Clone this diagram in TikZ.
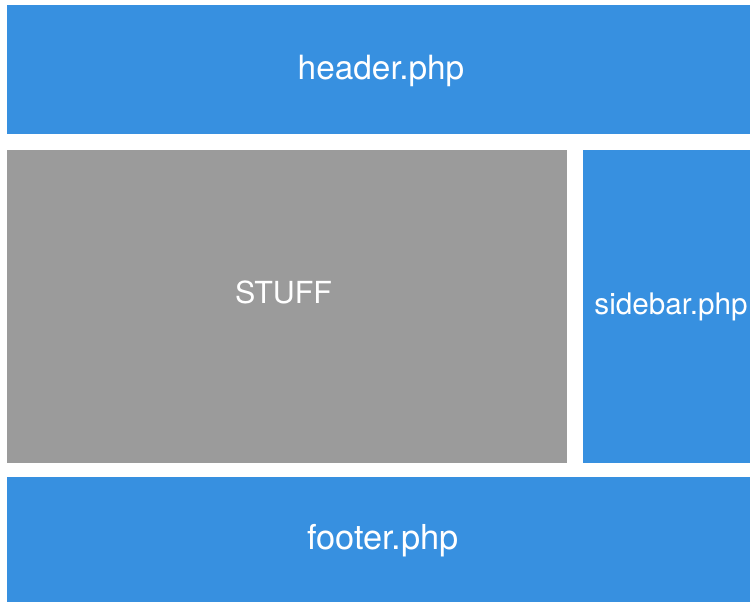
\documentclass[tikz,border=0pt]{standalone}
\usepackage{fontspec}
\setmainfont{TeX Gyre Heros}
\definecolor{blk}{RGB}{55,144,224}
\definecolor{gry}{RGB}{155,155,155}
\begin{document}
\begin{tikzpicture}[x=1bp,y=-1bp,
  blue box/.style={fill=blk,draw=none},
  gray box/.style={fill=gry,draw=none},
  lbl/.style={text=white,anchor=base,inner sep=0pt}]
\fill[white] (0,0) rectangle (750,602);
\useasboundingbox (0,0) rectangle (750,602);
\path[blue box] (7,5) rectangle (750,134);
\path[gray box] (7,150) rectangle (567,463);
\path[blue box] (583,150) rectangle (750,463);
\path[blue box] (7,477) rectangle (750,602);
\node[lbl,font=\fontsize{33.5}{38}\selectfont] (header) at (381,80) {header.php};
\node[lbl,font=\fontsize{30.5}{36}\selectfont] (stuff) at (283.5,303) {STUFF};
\node[lbl,font=\fontsize{29.8}{36}\selectfont] (sidebar) at (671,314) {sidebar.php};
\node[lbl,font=\fontsize{34.5}{40}\selectfont] (footer) at (383,549) {footer.php};
\end{tikzpicture}
\end{document}
